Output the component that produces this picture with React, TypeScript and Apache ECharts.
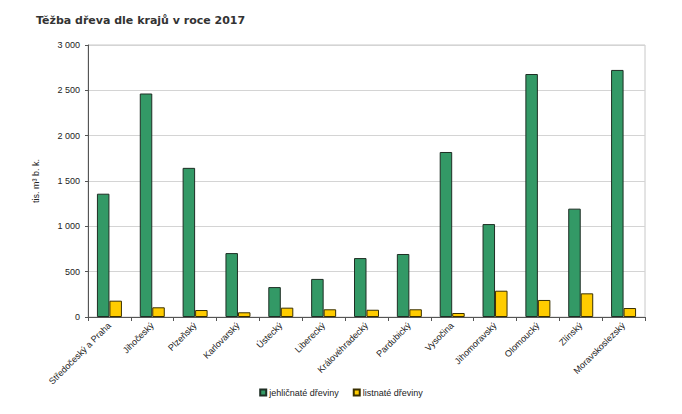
import React, { useEffect, useRef } from "react";
import * as echarts from "echarts";

const categories = [
  "Středočeský a Praha",
  "Jihočeský",
  "Plzeňský",
  "Karlovarský",
  "Ústecký",
  "Liberecký",
  "Královéhradecký",
  "Pardubický",
  "Vysočina",
  "Jihomoravský",
  "Olomoucký",
  "Zlínský",
  "Moravskoslezský",
];
const jehlicnate = [1360, 2465, 1645, 705, 330, 420, 650, 695, 1820, 1025, 2680, 1195, 2725];
const listnate = [180, 107, 77, 52, 103, 85, 80, 85, 44, 290, 188, 261, 99];
const seriesNames = ["jehličnaté dřeviny", "listnaté dřeviny"];
const yTicks = { min: 0, max: 3000, interval: 500 };

const fmt = (v: number) => String(v).replace(/\B(?=(\d{3})+(?!\d))/g, " ");

export default function App() {
  const ref = useRef<HTMLDivElement>(null);
  useEffect(() => {
    document.body.style.margin = "0";
    const chart = echarts.init(ref.current!, null, { renderer: "svg" });
    const font = "Arial, 'Liberation Sans', sans-serif";
    chart.setOption({
      animation: false,
      backgroundColor: "#ffffff",
      title: {
        text: "Těžba dřeva dle krajů v roce 2017",
        left: 31,
        top: 10,
        textStyle: {
          fontFamily: "Tahoma, 'DejaVu Sans', sans-serif",
          fontWeight: "bold",
          fontSize: 11,
          color: "#333333",
        },
      },
      grid: {
        left: 88,
        right: 37,
        top: 45,
        bottom: 97,
        show: true,
        borderColor: "#c8c8c8",
        borderWidth: 1,
      },
      legend: {
        data: seriesNames,
        bottom: 12,
        left: "center",
        itemWidth: 6,
        itemHeight: 6,
        itemGap: 14,
        icon: "rect",
        textStyle: { fontFamily: font, fontSize: 9, color: "#222", padding: [0, 0, 0, -2] },
      },
      xAxis: {
        type: "category",
        data: categories,
        axisLine: { lineStyle: { color: "#555", width: 1 } },
        axisTick: { show: true, length: 4, lineStyle: { color: "#555" } },
        axisLabel: {
          rotate: 45,
          fontFamily: font,
          fontSize: 9,
          color: "#222",
          margin: 7,
          interval: 0,
        },
        splitLine: { show: false },
      },
      yAxis: {
        type: "value",
        min: yTicks.min,
        max: yTicks.max,
        interval: yTicks.interval,
        name: "tis. m³ b. k.",
        nameLocation: "middle",
        nameGap: 48,
        nameRotate: 90,
        nameTextStyle: { fontFamily: font, fontSize: 9, color: "#222" },
        axisLine: { show: true, lineStyle: { color: "#555", width: 1 } },
        axisTick: { show: true, length: 3, lineStyle: { color: "#555" } },
        axisLabel: {
          fontFamily: font,
          fontSize: 9,
          color: "#222",
          margin: 8,
          formatter: (v: number) => fmt(v),
        },
        splitLine: { show: true, lineStyle: { color: "#d4d4d4", width: 1 } },
      },
      series: [
        {
          name: seriesNames[0],
          type: "bar",
          data: jehlicnate,
          barWidth: 12.5,
          barGap: "0%",
          itemStyle: { color: "#339966", borderColor: "#1e2e24", borderWidth: 1 },
        },
        {
          name: seriesNames[1],
          type: "bar",
          data: listnate,
          barWidth: 12.5,
          barGap: "0%",
          itemStyle: { color: "#ffcc00", borderColor: "#3a3000", borderWidth: 1 },
        },
      ],
    });
    return () => chart.dispose();
  }, []);
  return <div ref={ref} style={{ width: 682, height: 414 }} />;
}
